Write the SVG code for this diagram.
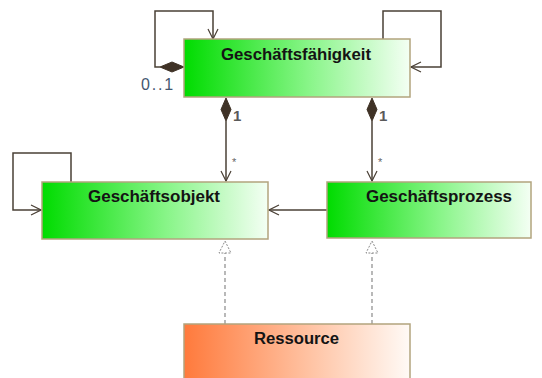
<svg xmlns="http://www.w3.org/2000/svg" width="542" height="378" viewBox="0 0 542 378">
  <defs>
    <linearGradient id="gGreen" x1="0" y1="0" x2="1" y2="0">
      <stop offset="0" stop-color="#00dc00"/>
      <stop offset="0.55" stop-color="#88f588"/>
      <stop offset="1" stop-color="#f4fff4"/>
    </linearGradient>
    <linearGradient id="gOrange" x1="0" y1="0" x2="1" y2="0">
      <stop offset="0" stop-color="#ff7a3c"/>
      <stop offset="0.55" stop-color="#ffc2a2"/>
      <stop offset="1" stop-color="#fffaf6"/>
    </linearGradient>
    <marker id="open" viewBox="0 0 12 12" refX="11" refY="6" markerWidth="12" markerHeight="12" markerUnits="userSpaceOnUse" orient="auto">
      <path d="M1,1 L11,6 L1,11" fill="none" stroke="#4a4036" stroke-width="1.2"/>
    </marker>
  </defs>
  <style>
    .box { stroke: #b2a47e; stroke-width: 1.5; }
    .name { font-family: "Liberation Sans", Arial, sans-serif; font-weight: bold; font-size: 16px; fill: #141414; text-anchor: middle; }
    .line { fill: none; stroke: #4a4036; stroke-width: 1.5; }
    .dash { fill: none; stroke: #8a8a8a; stroke-width: 1.2; stroke-dasharray: 4,3; }
    .tri { fill: #fff; stroke: #8a8a8a; stroke-width: 1; stroke-dasharray: 2,1.5; }
    .diamond { fill: #3f3226; stroke: #3f3226; stroke-width: 1; }
    .mult { font-family: "Liberation Sans", Arial, sans-serif; font-size: 15px; font-weight: bold; fill: #5a5a5a; }
    .star { font-family: "Liberation Sans", Arial, sans-serif; font-size: 11px; fill: #666; }
    .zo { font-family: "Liberation Sans", Arial, sans-serif; font-size: 16px; letter-spacing: 1.8px; fill: #44566f; }
  </style>

  <g id="connectors">
    <!-- self loop (composition) on Geschäftsfähigkeit, left side -->
    <path class="line" d="M160,67 H155 V11 H213 V39" marker-end="url(#open)"/>
    <path class="diamond" d="M184,67 L172,62 L160,67 L172,72 Z"/>
    <text class="zo" x="141" y="90">0..1</text>

    <!-- self loop on Geschäftsfähigkeit, right side -->
    <path class="line" d="M383,39 V11 H441 V67 H411" marker-end="url(#open)"/>

    <!-- Geschäftsfähigkeit to Geschäftsobjekt -->
    <path class="line" d="M226,121 V181" marker-end="url(#open)"/>
    <path class="diamond" d="M226,98 L231,109.5 L226,121 L221,109.5 Z"/>
    <text class="mult" x="233" y="121">1</text>
    <text class="star" x="232" y="166">*</text>

    <!-- Geschäftsfähigkeit to Geschäftsprozess -->
    <path class="line" d="M372,121 V181" marker-end="url(#open)"/>
    <path class="diamond" d="M372,98 L377,109.5 L372,121 L367,109.5 Z"/>
    <text class="mult" x="379" y="121">1</text>
    <text class="star" x="378" y="166">*</text>

    <!-- self loop on Geschäftsobjekt -->
    <path class="line" d="M71,182 V153 H13 V210 H41" marker-end="url(#open)"/>

    <!-- Geschäftsprozess to Geschäftsobjekt -->
    <path class="line" d="M327,210 H269" marker-end="url(#open)"/>

    <!-- realizations from Ressource -->
    <path class="dash" d="M225,324 V253"/>
    <path class="tri" d="M225,241 L231,253 L219,253 Z"/>
    <path class="dash" d="M372,324 V253"/>
    <path class="tri" d="M372,241 L378,253 L366,253 Z"/>
  </g>

  <g id="geschaeftsfaehigkeit">
    <rect class="box" x="184" y="39" width="226" height="58" fill="url(#gGreen)"/>
    <text class="name" x="296" y="60" textLength="150" lengthAdjust="spacingAndGlyphs">Geschäftsfähigkeit</text>
  </g>

  <g id="geschaeftsobjekt">
    <rect class="box" x="42" y="182" width="226" height="57" fill="url(#gGreen)"/>
    <text class="name" x="154" y="202" textLength="132" lengthAdjust="spacingAndGlyphs">Geschäftsobjekt</text>
  </g>

  <g id="geschaeftsprozess">
    <rect class="box" x="327" y="182" width="204" height="56" fill="url(#gGreen)"/>
    <text class="name" x="439" y="202" textLength="146" lengthAdjust="spacingAndGlyphs">Geschäftsprozess</text>
  </g>

  <g id="ressource">
    <rect class="box" x="184" y="324" width="226" height="60" fill="url(#gOrange)"/>
    <text class="name" x="296.5" y="344" textLength="85" lengthAdjust="spacingAndGlyphs">Ressource</text>
  </g>
</svg>
